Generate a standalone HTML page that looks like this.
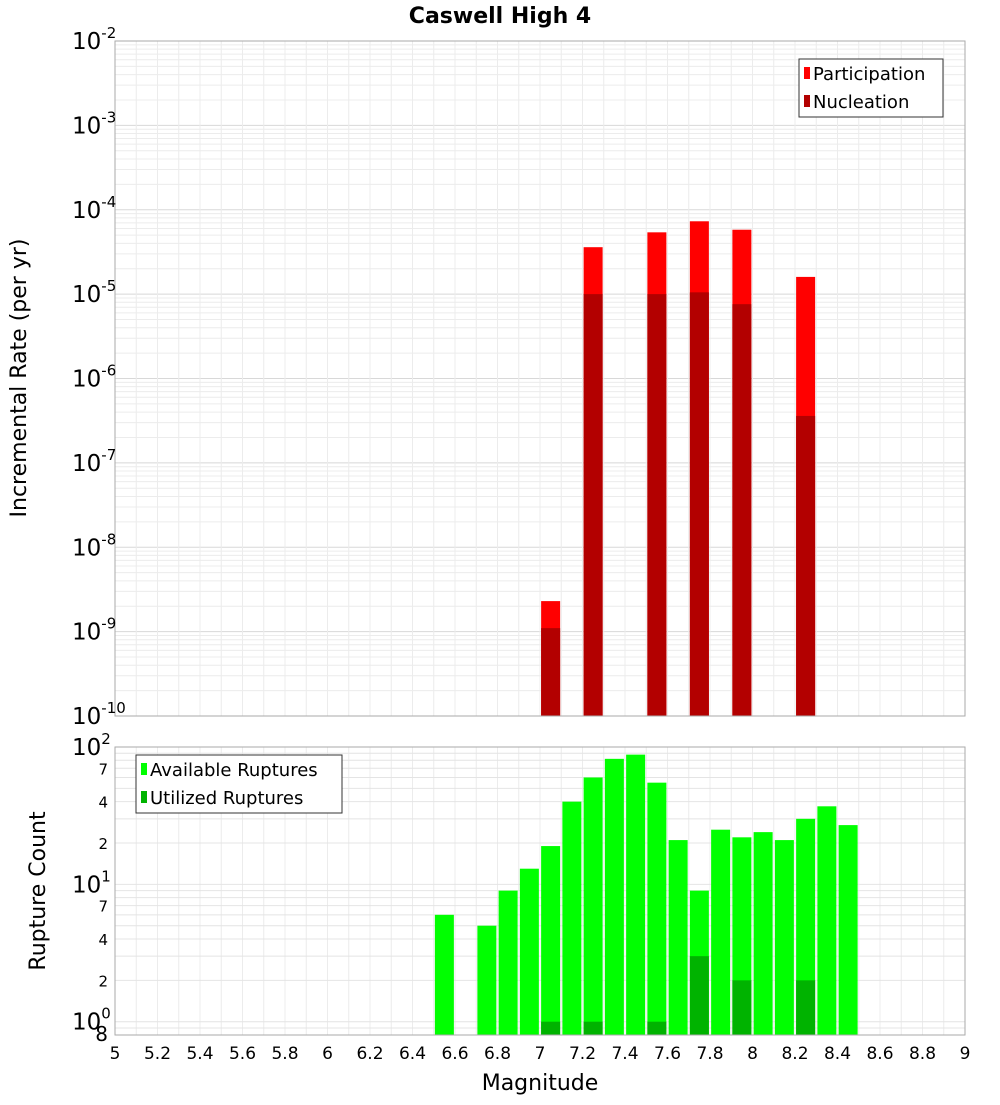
<!DOCTYPE html>
<html><head><meta charset="utf-8"><style>
body{margin:0;background:#fff;}
svg text{font-family:"DejaVu Sans","Liberation Sans",sans-serif;}
</style></head><body>
<svg id="c" width="1000" height="1100" xmlns="http://www.w3.org/2000/svg">
<text x="500" y="23" text-anchor="middle" font-size="22" font-weight="bold">Caswell High 4</text>
<g id="topPlot"></g><g id="botPlot"></g>
<text transform="translate(26,378) rotate(-90)" text-anchor="middle" font-size="22">Incremental Rate (per yr)</text>
<text transform="translate(45,891) rotate(-90)" text-anchor="middle" font-size="22">Rupture Count</text>
<text x="540" y="1090" text-anchor="middle" font-size="22">Magnitude</text>
</svg>
<script>
const magsTop=[7.05,7.25,7.55,7.75,7.95,8.25];
const participation=[2.3e-9,3.6e-5,5.4e-5,7.3e-5,5.8e-5,1.6e-5];
const nucleation=[1.1e-9,1.0e-5,1.0e-5,1.05e-5,7.6e-6,3.6e-7];
const magsBot=[6.55,6.75,6.85,6.95,7.05,7.15,7.25,7.35,7.45,7.55,7.65,7.75,7.85,7.95,8.05,8.15,8.25,8.35,8.45];
const available=[6,5,9,13,19,40,60,82,88,55,21,9,25,22,24,21,30,37,27];
const magsUtil=[7.05,7.25,7.55,7.75,7.95,8.25];
const utilized=[1,1,1,3,2,2];
const xTicks=[5,5.2,5.4,5.6,5.8,6,6.2,6.4,6.6,6.8,7,7.2,7.4,7.6,7.8,8,8.2,8.4,8.6,8.8,9];
const topExps=[-10,-9,-8,-7,-6,-5,-4,-3,-2];
const botMinor=[7,4,2];

const NS="http://www.w3.org/2000/svg";
const X0=115,X1=965;
const xS=m=>X0+(m-5)/4*(X1-X0);
const TT=41,TB=716,yT=v=>TB-(Math.log10(v)+10)/8*(TB-TT);
const BT=747,BB=1035,LMIN=Math.log10(0.8),LMAX=2,yB=v=>BB-(Math.log10(v)-LMIN)/(LMAX-LMIN)*(BB-BT);
function el(p,t,a,txt){const e=document.createElementNS(NS,t);for(const k in a)e.setAttribute(k,a[k]);if(txt!==undefined)e.textContent=txt;p.appendChild(e);return e;}
const topG=document.getElementById('topPlot'),botG=document.getElementById('botPlot');
const BW=19;

for(let e=-10;e<-2;e++)for(let k=1;k<10;k++){const y=yT(k*Math.pow(10,e));const g=el(topG,'line',{x1:X0,x2:X1,y1:y,y2:y,stroke:k==1?'#d8d8d8':'#ececec','stroke-width':1});
 
 }
for(let i=1;i<40;i++){const m=5+i*0.1;
 const g=el(topG,'line',{x1:xS(m),x2:xS(m),y1:TT,y2:TB,stroke:'#ececec'});
 
 
 const g2=el(botG,'line',{x1:xS(m),x2:xS(m),y1:BT,y2:BB,stroke:'#ececec'});
 
 }
[0.8,0.9,1,2,3,4,5,6,7,8,9,10,20,30,40,50,60,70,80,90].forEach(v=>{const y=yB(v);const g=el(botG,'line',{x1:X0,x2:X1,y1:y,y2:y,stroke:'#e4e4e4'});
 
 });

magsTop.forEach((m,i)=>{
 let r=el(topG,'rect',{x:xS(m)-BW/2,y:yT(participation[i]),width:BW,height:TB-yT(participation[i]),fill:'#ff0000'});
 
 
 r=el(topG,'rect',{x:xS(m)-BW/2,y:yT(nucleation[i]),width:BW,height:TB-yT(nucleation[i]),fill:'#b30000'});
 
 
});
magsBot.forEach((m,i)=>{const r=el(botG,'rect',{x:xS(m)-BW/2,y:yB(available[i]),width:BW,height:BB-yB(available[i]),fill:'#00ff00'});
 
 });
magsUtil.forEach((m,i)=>{const r=el(botG,'rect',{x:xS(m)-BW/2,y:yB(utilized[i]),width:BW,height:BB-yB(utilized[i]),fill:'#00b300'});
 
 });

let f=el(topG,'rect',{x:X0,y:TT,width:X1-X0,height:TB-TT,fill:'none',stroke:'#aaa'});


f=el(botG,'rect',{x:X0,y:BT,width:X1-X0,height:BB-BT,fill:'none',stroke:'#aaa'});



topExps.forEach(e=>{const y=yT(Math.pow(10,e));const t=el(topG,'text',{x:72,y:y+8,'font-size':23});
 
 
 el(t,'tspan',{},'10');el(t,'tspan',{dy:-11,'font-size':15},String(e));});
[0,1,2].forEach(e=>{const y=yB(Math.pow(10,e));const t=el(botG,'text',{x:72,y:y+8,'font-size':23});
 
 
 el(t,'tspan',{},'10');el(t,'tspan',{dy:-11,'font-size':15},String(e));
 if(e<2)botMinor.forEach(k=>{const tt=el(botG,'text',{x:108,y:yB(k*Math.pow(10,e))+6,'font-size':15,'text-anchor':'end'},String(k));
  
  });});
let t8=el(botG,'text',{x:108,y:1041,'font-size':20,'text-anchor':'end'},'8');


xTicks.forEach(m=>{const t=el(botG,'text',{x:xS(m),y:1059,'font-size':17,'text-anchor':'middle'},String(m));
 
 });

function legend(p,x0,y0,w,items,name){const g=el(p,'g',{});
 
 
 el(g,'rect',{x:x0,y:y0,width:w,height:58,fill:'#fff',stroke:'#333'});
 items.forEach((it,i)=>{const yy=y0+14+i*28;el(g,'rect',{x:x0+5,y:yy-6,width:6,height:12,fill:it[1]});
  const t=el(g,'text',{x:x0+14,y:yy+7,'font-size':18},it[0]);
  
  });}
legend(topG,799,59,144,[['Participation','#ff0000'],['Nucleation','#b30000']],'top-legend');
legend(botG,136,755,206,[['Available Ruptures','#00ff00'],['Utilized Ruptures','#00b300']],'bottom-legend');
</script>
</body></html>
